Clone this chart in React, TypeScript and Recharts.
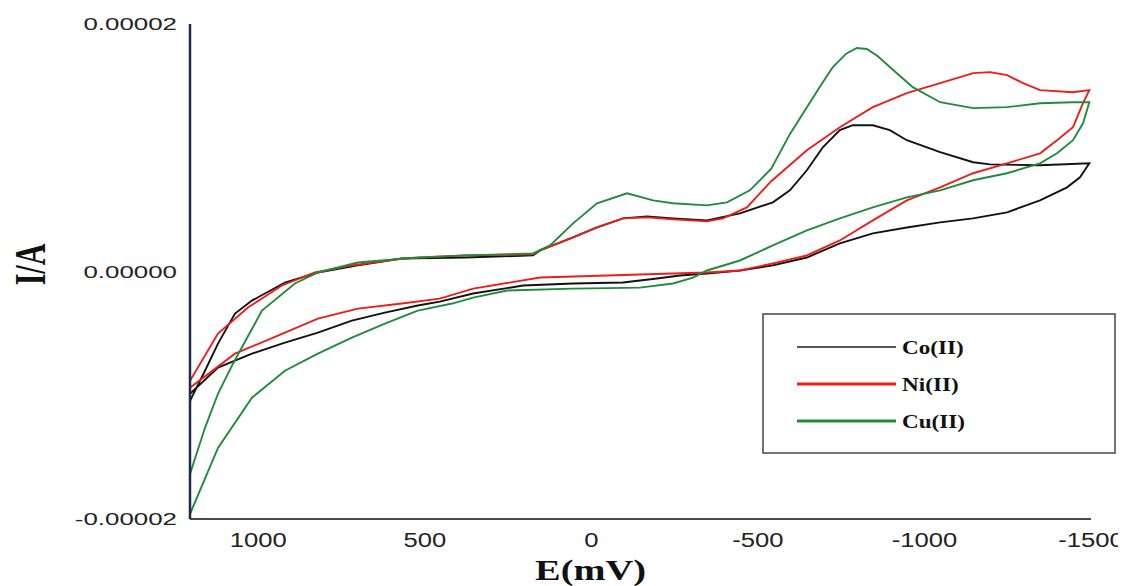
import { LineChart, Line, XAxis, YAxis, Legend, Label } from 'recharts'

// cyclic voltammograms: [E (mV), I (µA)], forward sweep then return sweep
const coLoop = [
  [1205, -10.45], [1160, -8.02], [1121, -5.83], [1070, -3.4], [1019, -2.35], [920, -0.89], [821, -0.08],
  [701, 0.49], [569, 1.05], [379, 1.13], [175, 1.3], [154, 1.7], [55, 2.75], [-17, 3.56], [-95, 4.29],
  [-167, 4.45], [-245, 4.29], [-347, 4.13], [-446, 4.7], [-545, 5.59], [-596, 6.56], [-647, 8.18],
  [-695, 10.04], [-746, 11.42], [-785, 11.82], [-845, 11.82], [-896, 11.42], [-947, 10.61], [-1047, 9.64],
  [-1146, 8.83], [-1197, 8.66], [-1347, 8.58], [-1495, 8.74],
  [-1467, 7.61], [-1428, 6.8], [-1347, 5.75], [-1248, 4.78], [-1146, 4.29], [-1047, 3.97], [-947, 3.56],
  [-845, 3.08], [-746, 2.27], [-647, 1.13], [-545, 0.49], [-446, 0.08], [-347, -0.16], [-266, -0.32],
  [-197, -0.57], [-95, -0.89], [55, -0.97], [205, -1.13], [355, -1.78], [455, -2.43], [521, -2.75],
  [620, -3.32], [719, -3.97], [821, -4.94], [920, -5.75], [1019, -6.64], [1121, -7.77], [1205, -9.88],
]

const niLoop = [
  [1205, -8.83], [1121, -5.02], [1031, -2.91], [929, -1.13], [830, -0.08], [719, 0.49], [569, 1.05],
  [379, 1.3], [175, 1.38], [154, 1.7], [55, 2.75], [-17, 3.56], [-95, 4.29], [-167, 4.37], [-245, 4.21],
  [-347, 4.05], [-395, 4.29], [-467, 5.18], [-540, 7.3], [-647, 9.8], [-746, 11.66], [-845, 13.28],
  [-947, 14.41], [-1047, 15.22], [-1146, 16.03], [-1197, 16.11], [-1248, 15.87], [-1296, 15.22],
  [-1347, 14.66], [-1446, 14.49], [-1495, 14.66],
  [-1476, 13.6], [-1446, 11.66], [-1398, 10.61], [-1347, 9.55], [-1248, 8.74], [-1146, 7.94], [-1047, 6.8],
  [-947, 5.75], [-845, 4.13], [-746, 2.51], [-647, 1.3], [-545, 0.65], [-446, 0.08], [-347, -0.08],
  [-245, -0.16], [-47, -0.32], [154, -0.49], [355, -1.38], [455, -2.19], [569, -2.59], [701, -3.0],
  [821, -3.81], [920, -4.94], [1070, -6.64], [1205, -9.39],
]

const cuLoop = [
  [1205, -16.36], [1160, -12.63], [1121, -9.88], [1076, -7.45], [989, -3.16], [890, -0.97], [821, -0.08],
  [701, 0.73], [521, 1.13], [379, 1.3], [175, 1.46], [124, 2.11], [55, 3.89], [-17, 5.51], [-107, 6.32],
  [-185, 5.75], [-245, 5.51], [-347, 5.34], [-407, 5.59], [-476, 6.56], [-540, 8.3], [-596, 11.1],
  [-647, 13.28], [-690, 15.1], [-725, 16.52], [-765, 17.6], [-797, 18.06], [-827, 17.98], [-860, 17.4],
  [-896, 16.52], [-965, 14.9], [-1047, 13.68], [-1146, 13.2], [-1248, 13.28], [-1347, 13.6], [-1446, 13.68],
  [-1495, 13.68],
  [-1476, 11.98], [-1446, 10.61], [-1398, 9.55], [-1347, 8.74], [-1248, 7.94], [-1146, 7.37], [-1047, 6.56],
  [-947, 5.99], [-845, 5.18], [-746, 4.29], [-647, 3.32], [-545, 2.11], [-446, 0.89], [-347, 0.08],
  [-305, -0.49], [-245, -0.97], [-146, -1.3], [55, -1.38], [253, -1.54], [355, -2.11], [418, -2.59],
  [521, -3.16], [620, -4.21], [719, -5.34], [821, -6.64], [920, -8.02], [1019, -10.2], [1121, -14.25],
  [1205, -19.6],
]

const xTicks = [1000, 500, 0, -500, -1000, -1500]
const yTicks = [-0.00002, 0, 0.00002]

const series = [
  { name: 'Co(II)', points: coLoop, stroke: '#111111', legendStroke: '#555555' },
  { name: 'Ni(II)', points: niLoop, stroke: '#ec1e1a', legendStroke: '#ec1e1a' },
  { name: 'Cu(II)', points: cuLoop, stroke: '#1f8b3b', legendStroke: '#1f8b3b' },
]

const toRows = (pts: number[][]) => pts.map(([e, i]) => ({ E: e, I: i * 1e-6 }))

const tickFont = '"Liberation Sans", Arial, sans-serif'
const labelFont = '"Liberation Serif", "Times New Roman", serif'

const XTick = ({ x, y, payload }: any) => (
  <g transform={`translate(${x},${y})`}>
    <text transform="scale(1.25,1)" textAnchor="middle" y={20} fill="#222" fontSize={20.5} fontFamily={tickFont}>
      {payload.value}
    </text>
  </g>
)

const YTick = ({ x, y, payload }: any) => (
  <g transform={`translate(${x},${y})`}>
    <text transform="scale(1.57,1)" textAnchor="end" y={6} fill="#222" fontSize={16.5} fontFamily={tickFont}>
      {Number(payload.value).toFixed(5)}
    </text>
  </g>
)

const renderLegend = () => (
  <svg width={354} height={141}>
    <rect x={1} y={1} width={352} height={139} fill="#fff" stroke="#444" strokeWidth={1.5} />
    {series.map((s, k) => (
      <g key={s.name}>
        <line x1={35} x2={134} y1={34 + k * 37} y2={34 + k * 37} stroke={s.legendStroke} strokeWidth={k === 0 ? 2 : 3} />
        <text x={140} y={41 + k * 37} transform={`translate(${140 * -0.22},0) scale(1.22,1)`} fontSize={19} fontWeight="bold" fontFamily={labelFont} fill="#111">
          {s.name}
        </text>
      </g>
    ))}
  </svg>
)

export default function App() {
  return (
    <LineChart width={1118} height={578} margin={{ top: 16, right: 35, left: 0, bottom: 0 }}>
      <XAxis
        type="number"
        dataKey="E"
        domain={[-1500, 1205]}
        reversed
        allowDataOverflow
        ticks={xTicks}
        height={67}
        tickLine={false}
        axisLine={{ stroke: '#4a4a4a', strokeWidth: 2 }}
        tick={<XTick />}
      >
        <Label
          content={({ viewBox }: any) => (
            <text
              transform={`translate(${viewBox.x + viewBox.width / 2 - 50},${viewBox.y + 61}) scale(1.28,1)`}
              textAnchor="middle"
              fontSize={30}
              fontWeight="bold"
              fontFamily={labelFont}
              fill="#111"
            >
              E(mV)
            </text>
          )}
        />
      </XAxis>
      <YAxis
        type="number"
        dataKey="I"
        domain={[-0.00002, 0.00002]}
        allowDataOverflow
        ticks={yTicks}
        width={182}
        tickLine={false}
        tickMargin={7}
        axisLine={{ stroke: '#1d2b4a', strokeWidth: 2.5 }}
        tick={<YTick />}
      >
        <Label
          content={({ viewBox }: any) => (
            <text
              transform={`translate(${viewBox.x + 21},${viewBox.y + viewBox.height / 2 - 7}) scale(1.5,1) rotate(-90)`}
              textAnchor="middle"
              dy="0.35em"
              fontSize={30}
              fontWeight="bold"
              fontFamily={labelFont}
              fill="#111"
            >
              I/A
            </text>
          )}
        />
      </YAxis>
      <Legend
        layout="horizontal"
        verticalAlign="middle"
        align="center"
        content={renderLegend}
        wrapperStyle={{ position: 'absolute', left: 754, top: 305, width: 354, height: 141 }}
      />
      {series.map((s) => (
        <Line
          key={s.name}
          name={s.name}
          data={toRows(s.points)}
          dataKey="I"
          type="linear"
          stroke={s.stroke}
          strokeWidth={1.9}
          dot={false}
          activeDot={false}
          isAnimationActive={false}
        />
      ))}
    </LineChart>
  )
}
